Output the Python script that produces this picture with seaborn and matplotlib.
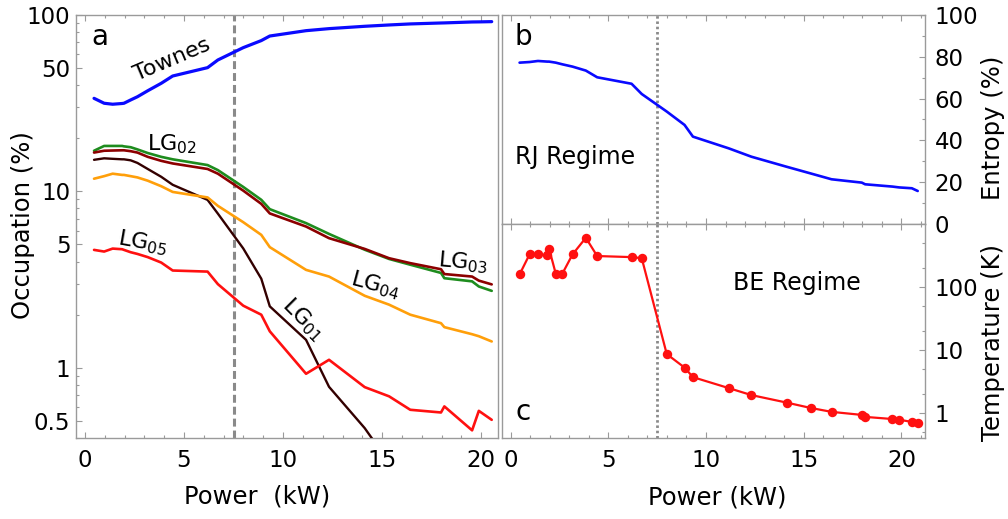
import numpy as np
import pandas as pd
import matplotlib
matplotlib.use("Agg")
import matplotlib.pyplot as plt
import seaborn as sns
from matplotlib.ticker import LogLocator, MultipleLocator, NullFormatter, FixedLocator

# Pump power of each measurement (kW)
power_kw = [0.46, 0.97, 1.40, 1.88, 1.97, 2.31, 2.65, 3.17, 3.85, 4.43, 6.19, 6.71,
            7.99, 8.90, 9.33, 11.16, 12.32, 14.12, 15.35, 16.42, 17.97, 18.14,
            19.54, 19.88, 20.53, 20.83]

# Mode occupations (%) -- measured up to 20.53 kW
townes = [33.7, 31.6, 31.2, 31.5, 31.6, 33.0, 34.4, 37.2, 41.0, 45.1, 50.3, 55.6,
          65.3, 71.6, 76.0, 81.5, 83.7, 86.3, 87.8, 89.0, 90.1, 90.2, 91.3, 91.4, 91.7]
lg02 = [17.0, 18.1, 18.1, 18.1, 18.0, 17.8, 17.3, 16.5, 15.7, 15.2, 14.1, 13.2,
        10.6, 8.96, 7.93, 6.61, 5.74, 4.67, 4.14, 3.84, 3.45, 3.22, 3.09, 2.89, 2.73]
lg03 = [16.6, 17.0, 17.05, 17.1, 17.1, 16.9, 16.6, 15.7, 14.9, 14.4, 13.4, 12.6,
        10.1, 8.5, 7.5, 6.32, 5.43, 4.72, 4.18, 3.92, 3.62, 3.40, 3.29, 3.12, 2.97]
lg01 = [15.1, 15.4, 15.3, 15.2, 15.2, 15.0, 14.5, 13.4, 12.1, 10.9, 8.95, 7.48,
        4.75, 3.2, 2.23, 1.44, 0.78, 0.455, 0.29, np.nan, np.nan, np.nan, np.nan,
        np.nan, np.nan]
lg04 = [11.8, 12.2, 12.6, 12.4, 12.4, 12.2, 12.0, 11.5, 10.7, 9.93, 9.24, 8.28,
        6.69, 5.67, 4.83, 3.59, 3.29, 2.56, 2.28, 2.0, 1.79, 1.70, 1.55, 1.51, 1.41]
lg05 = [4.66, 4.56, 4.74, 4.70, 4.66, 4.52, 4.42, 4.24, 3.95, 3.56, 3.51, 2.98,
        2.25, 2.0, 1.61, 0.925, 1.11, 0.777, 0.689, 0.578, 0.558, 0.604, 0.442,
        0.570, 0.507]

# Optical entropy (%) and fitted temperature (K)
entropy = [77.2, 77.5, 78.0, 77.7, 77.7, 77.2, 76.4, 75.3, 73.4, 70.2, 67.1, 62.2,
           53.8, 47.4, 41.8, 36.2, 32.2, 27.4, 24.2, 21.4, 19.8, 19.0, 17.9, 17.5,
           17.1, 15.8]
temperature = [158, 329, 329, 317, 405, 163, 163, 329, 604, 310, 298, 287, 8.6,
               5.25, 3.7, 2.48, 1.92, 1.46, 1.2, 1.04, 0.93, 0.865, 0.80, 0.78,
               0.72, 0.69]

transition_kw = 7.5

occ = pd.DataFrame({"power": power_kw[:len(townes)], "Townes": townes,
                    "LG02": lg02, "LG03": lg03, "LG01": lg01, "LG04": lg04,
                    "LG05": lg05})
thermo = pd.DataFrame({"power": power_kw, "entropy": entropy,
                       "temperature": temperature})

sns.set_style("white")
frame = "#9a9a9a"
plt.rcParams.update({
    "font.family": ["DejaVu Sans"],
    "mathtext.fontset": "dejavusans",
    "text.color": "black",
    "axes.labelcolor": "black",
    "axes.edgecolor": frame,
    "axes.linewidth": 1.0,
    "xtick.direction": "in", "ytick.direction": "in",
    "xtick.color": frame, "ytick.color": frame,
    "xtick.labelcolor": "black", "ytick.labelcolor": "black",
    "xtick.major.size": 4.0, "ytick.major.size": 4.0,
    "xtick.minor.size": 2.4, "ytick.minor.size": 2.4,
    "xtick.major.width": 0.8, "ytick.major.width": 0.8,
    "xtick.minor.width": 0.8, "ytick.minor.width": 0.8,
    "xtick.labelsize": 16.5, "ytick.labelsize": 16.5,
    "axes.labelsize": 17.5,
})

fig = plt.figure(figsize=(10.08, 5.19), dpi=100)
ax_a = fig.add_axes([0.0754, 0.1561, 0.4187, 0.8150])
ax_b = fig.add_axes([0.4980, 0.5684, 0.4196, 0.4027])
ax_c = fig.add_axes([0.4980, 0.1561, 0.4196, 0.4123])

# ---- (a) mode occupations ----
styles = [("Townes", "#0a0aff", 2.3), ("LG02", "#1e8c1e", 1.9),
          ("LG03", "#8c0000", 1.9), ("LG01", "#330000", 1.7),
          ("LG04", "#ff9f0a", 1.9), ("LG05", "#ff1010", 1.9)]
ax_a.axvline(transition_kw, color="#8a8a8a", lw=2.2, dashes=(2.6, 1.3), zorder=1)
for col, color, lw in styles:
    sns.lineplot(data=occ, x="power", y=col, ax=ax_a, color=color,
                 linewidth=lw, zorder=3)
ax_a.set_yscale("log")
ax_a.set_xlim(-0.45, 20.85)
ax_a.set_ylim(0.4, 100)
ax_a.set_yticks([0.5, 1, 5, 10, 50, 100],
                labels=["0.5", "1", "5", "10", "50", "100"])
ax_a.yaxis.set_minor_locator(LogLocator(base=10, subs=np.arange(2, 10)))
ax_a.yaxis.set_minor_formatter(NullFormatter())
ax_a.set_xticks([0, 5, 10, 15, 20])
ax_a.xaxis.set_minor_locator(MultipleLocator(1))
ax_a.tick_params(which="both", top=True, right=False, left=True, bottom=True)
ax_a.tick_params(axis="x", pad=8)
ax_a.tick_params(axis="y", pad=4)
ax_a.set_xlabel("Power  (kW)", va="center")
ax_a.xaxis.set_label_coords(0.429, -0.139)
ax_a.set_ylabel("Occupation (%)", va="center", ha="center")
ax_a.yaxis.set_label_coords(-0.126, 0.504)

ax_a.text(0.057, 0.948, "a", transform=ax_a.transAxes, fontsize=20,
          ha="center", va="center")
lab = dict(fontsize=16, ha="center", va="center", color="black")
ax_a.text(4.4, 55.6, "Townes", rotation=23, **lab)
ax_a.text(4.4, 18.6, r"LG$_{\mathit{02}}$", **lab)
ax_a.text(2.9, 5.1, r"LG$_{\mathit{05}}$", rotation=-10, **lab)
ax_a.text(19.1, 3.98, r"LG$_{\mathit{03}}$", rotation=-5, **lab)
ax_a.text(14.65, 2.95, r"LG$_{\mathit{04}}$", rotation=-15, **lab)
ax_a.text(11.0, 1.87, r"LG$_{\mathit{01}}$", rotation=-45, **lab)

# ---- (b) entropy ----
ax_b.axvline(transition_kw, color="#8a8a8a", lw=2.0, dashes=(0.9, 1.0), zorder=1)
sns.lineplot(data=thermo, x="power", y="entropy", ax=ax_b, color="#0a0aff",
             linewidth=1.9, zorder=3)
ax_b.set_xlim(-0.44, 21.2)
ax_b.set_ylim(0, 100)
ax_b.set_xticks([0, 5, 10, 15, 20])
ax_b.xaxis.set_minor_locator(MultipleLocator(1))
ax_b.yaxis.tick_right()
ax_b.set_yticks([0, 20, 40, 60, 80, 100])
ax_b.yaxis.set_minor_locator(MultipleLocator(10))
ax_b.tick_params(which="both", top=True, bottom=True, left=False, right=True,
                 labelbottom=False, labelleft=False, labelright=True)
ax_b.tick_params(axis="y", pad=7)
ax_b.set_xlabel("")
ax_b.yaxis.set_label_position("right")
ax_b.set_ylabel("Entropy (%)", va="center", ha="center")
ax_b.yaxis.set_label_coords(1.161, 0.459)
ax_b.text(0.05, 0.895, "b", transform=ax_b.transAxes, fontsize=20,
          ha="center", va="center")
ax_b.text(0.173, 0.32, "RJ Regime", transform=ax_b.transAxes, fontsize=17,
          ha="center", va="center")

# ---- (c) temperature ----
ax_c.axvline(transition_kw, color="#8a8a8a", lw=2.0, dashes=(0.9, 1.0), zorder=1)
sns.lineplot(data=thermo, x="power", y="temperature", ax=ax_c, color="#ff1010",
             linewidth=1.6, marker="o", markersize=6.8, markeredgewidth=0,
             zorder=3)
ax_c.set_yscale("log")
ax_c.set_xlim(-0.44, 21.2)
ax_c.set_ylim(0.4, 1000)
ax_c.set_xticks([0, 5, 10, 15, 20])
ax_c.xaxis.set_minor_locator(MultipleLocator(1))
ax_c.yaxis.tick_right()
ax_c.set_yticks([1, 10, 100], labels=["1", "10", "100"])
ax_c.yaxis.set_minor_locator(FixedLocator([0.5, 2, 5, 20, 50, 200, 500]))
ax_c.yaxis.set_minor_formatter(NullFormatter())
ax_c.tick_params(which="both", top=True, bottom=True, left=False, right=True,
                 labelleft=False, labelright=True)
ax_c.tick_params(axis="x", pad=8)
ax_c.tick_params(axis="y", pad=7)
ax_c.set_xlabel("Power (kW)", va="center")
ax_c.xaxis.set_label_coords(0.509, -0.276)
ax_c.yaxis.set_label_position("right")
ax_c.set_ylabel("Temperature (K)", va="center", ha="center")
ax_c.yaxis.set_label_coords(1.161, 0.444)
ax_c.text(0.05, 0.12, "c", transform=ax_c.transAxes, fontsize=20,
          ha="center", va="center")
ax_c.text(0.697, 0.724, "BE Regime", transform=ax_c.transAxes, fontsize=17,
          ha="center", va="center")

for ax in (ax_a, ax_b, ax_c):
    for s in ax.spines.values():
        s.set_visible(True)
        s.set_color(frame)

fig.savefig("out.png", dpi=100, facecolor="white")
